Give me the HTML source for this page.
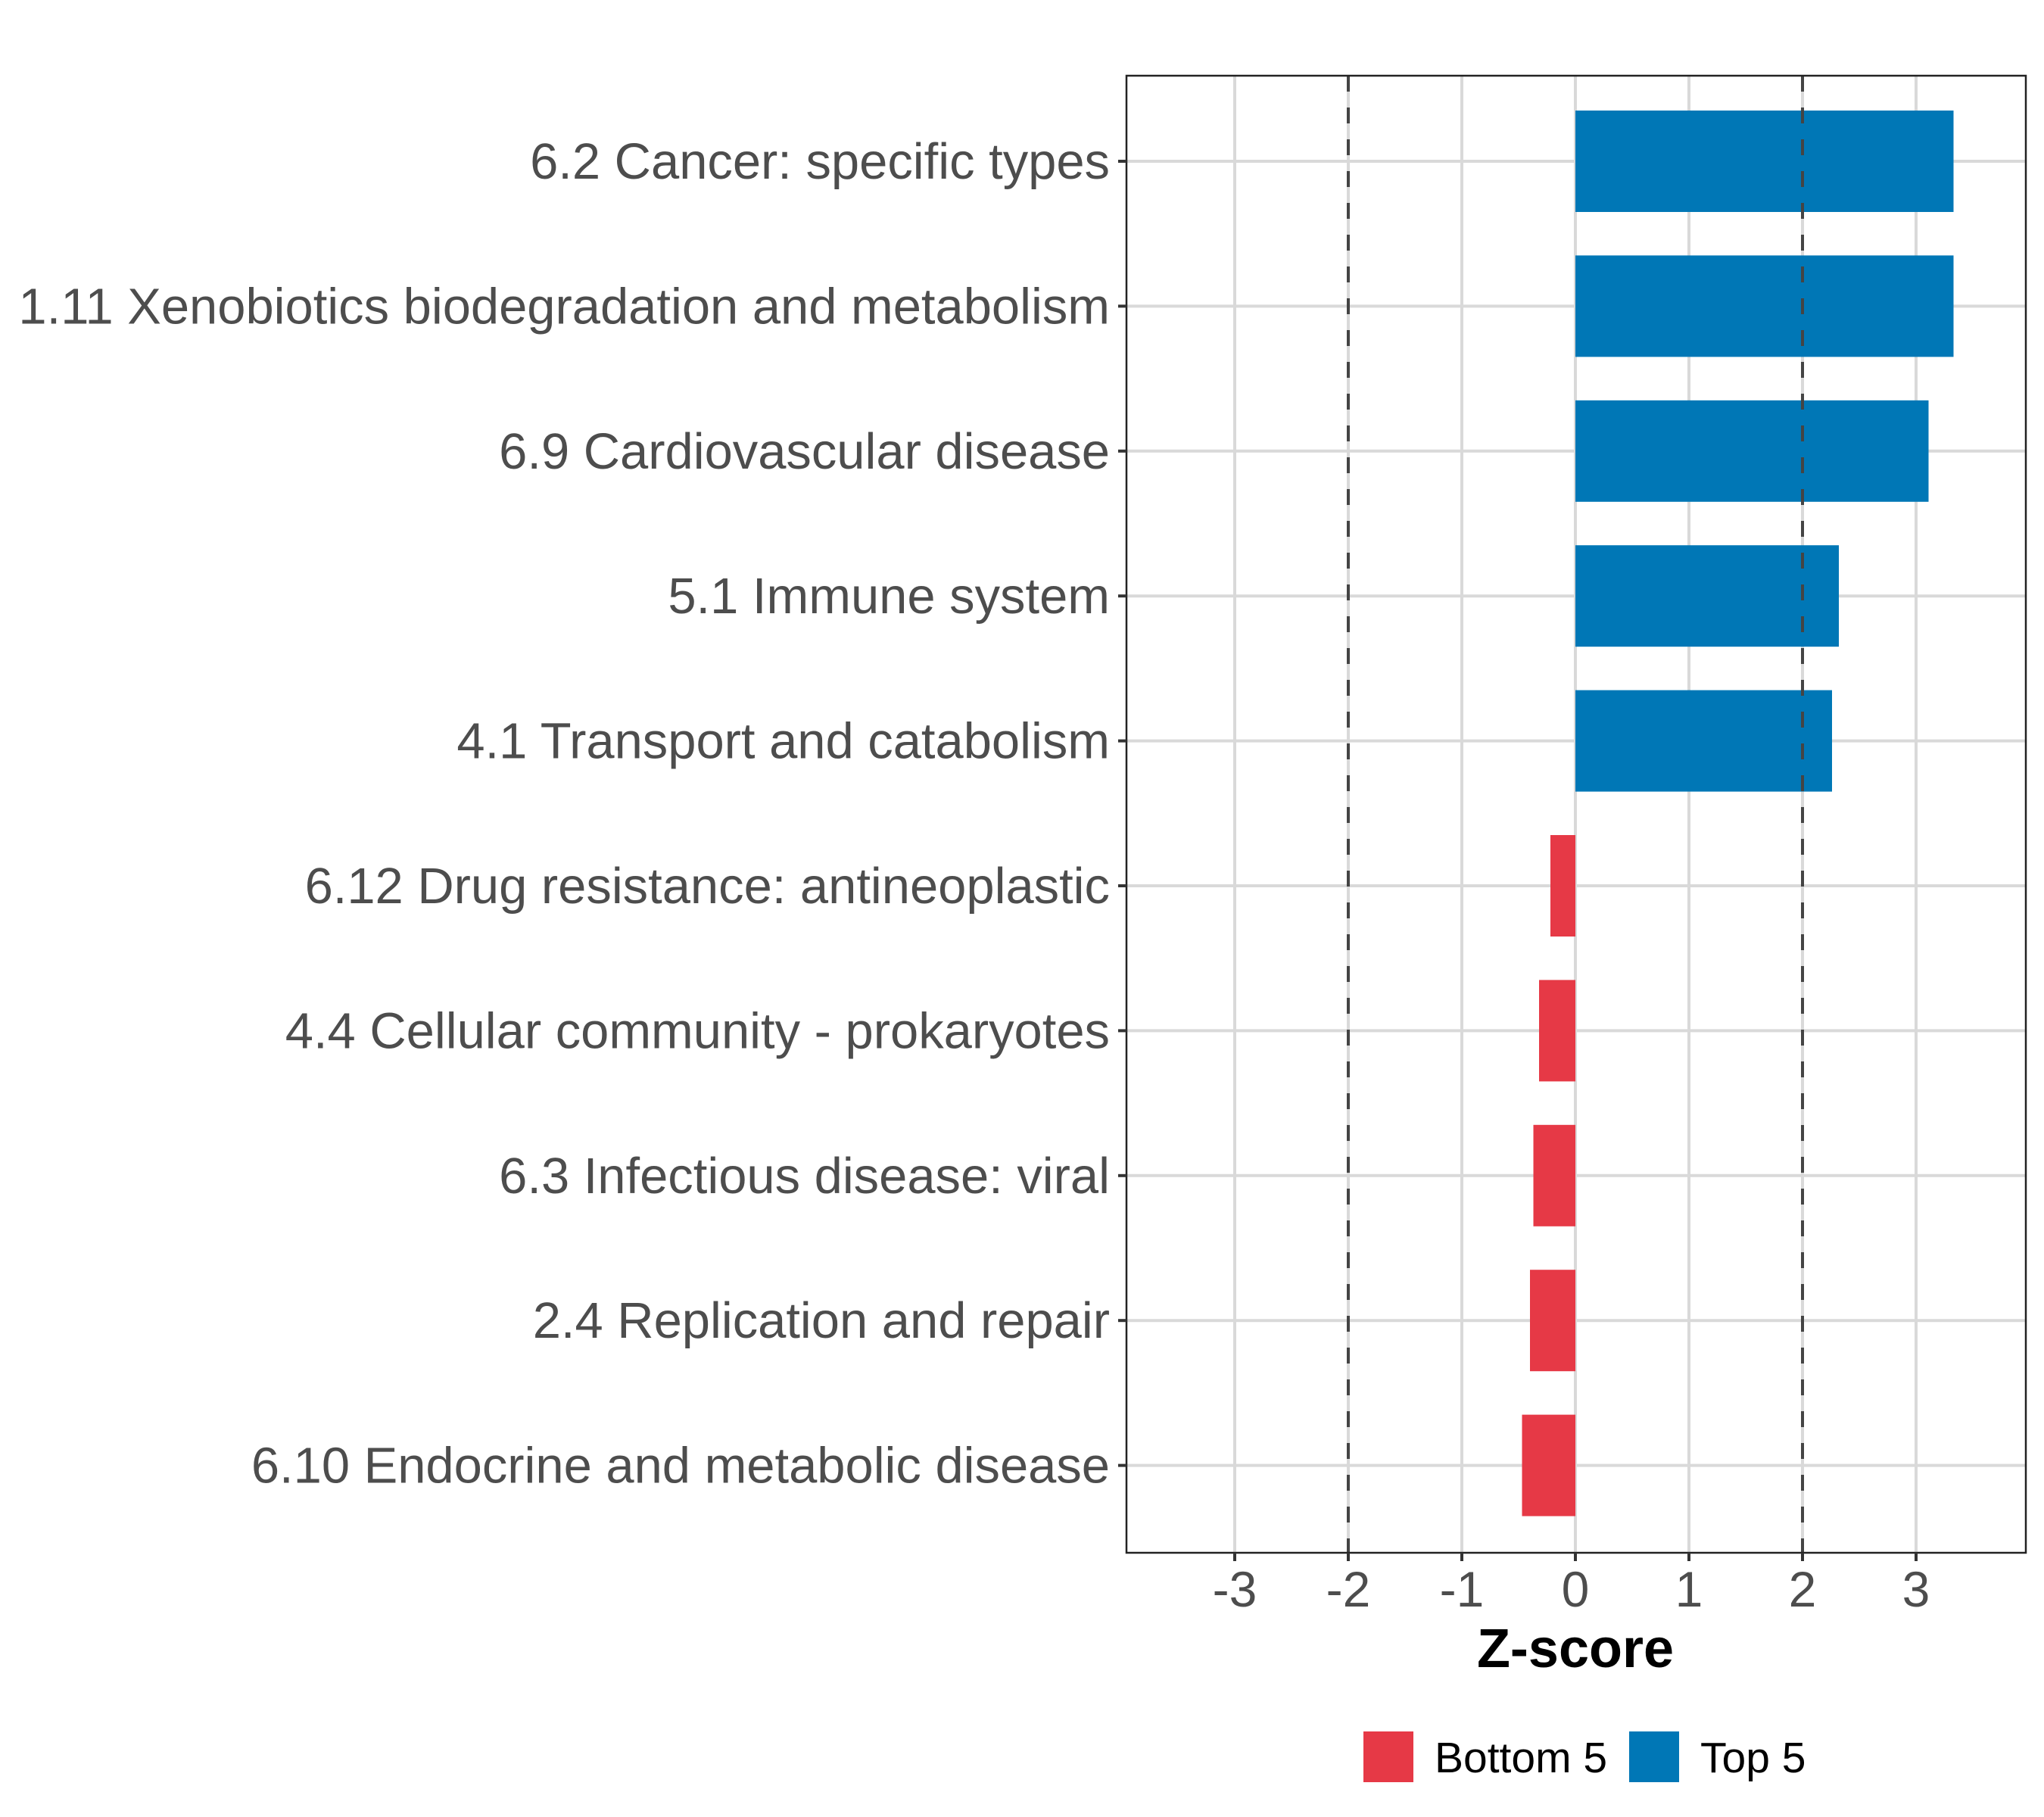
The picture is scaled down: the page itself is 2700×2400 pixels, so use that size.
<!DOCTYPE html>
<html><head><meta charset="utf-8"><style>
html,body{margin:0;padding:0;background:#fff}
svg{display:block;font-family:"Liberation Sans",Arial,sans-serif}
</style></head><body>
<svg id="chart" width="2700" height="2400" viewBox="0 0 2700 2400"></svg>
<script>
const categories=["6.2 Cancer: specific types","1.11 Xenobiotics biodegradation and metabolism","6.9 Cardiovascular disease","5.1 Immune system","4.1 Transport and catabolism","6.12 Drug resistance: antineoplastic","4.4 Cellular community - prokaryotes","6.3 Infectious disease: viral","2.4 Replication and repair","6.10 Endocrine and metabolic disease"];
const values=[3.33,3.33,3.11,2.32,2.26,-0.22,-0.32,-0.37,-0.40,-0.47];
const groups=["Top 5","Top 5","Top 5","Top 5","Top 5","Bottom 5","Bottom 5","Bottom 5","Bottom 5","Bottom 5"];
const xTicks=[-3,-2,-1,0,1,2,3];
const thresholds=[-2,2];
const legendLabels=["Bottom 5","Top 5"];

const NS="http://www.w3.org/2000/svg";
const svg=document.getElementById("chart");
const L=1488,R=2676,T=100,B=2051;
const colors={"Top 5":"#0077B6","Bottom 5":"#E63946"};
function xs(v){return 2081+v*150;}
function ys(i){return 213+i*191.4;}
const band=191.4*0.7;
function mk(tag,attrs,parent){const e=document.createElementNS(NS,tag);for(const k in attrs)e.setAttribute(k,attrs[k]);(parent||svg).appendChild(e);return e;}

xTicks.forEach(t=>{
  const g=mk("line",{x1:xs(t),x2:xs(t),y1:T,y2:B,stroke:"#d9d9d9","stroke-width":4});
  
  
});
categories.forEach((c,i)=>{
  const g=mk("line",{x1:L,x2:R,y1:ys(i),y2:ys(i),stroke:"#d9d9d9","stroke-width":4});
  
  
});
values.forEach((v,i)=>{
  const x0=Math.min(xs(0),xs(v)),w=Math.abs(xs(v)-xs(0));
  const b=mk("rect",{x:x0,y:ys(i)-band/2,width:w,height:band,fill:colors[groups[i]]});
  
  
});
thresholds.forEach(t=>{
  const l=mk("line",{x1:xs(t),x2:xs(t),y1:T,y2:B,stroke:"#444","stroke-width":4,"stroke-dasharray":"21 21"});
  
  
});
const pb=mk("rect",{x:L,y:T,width:R-L,height:B-T,fill:"none",stroke:"#222","stroke-width":2.5});


categories.forEach((c,i)=>{
  const tk=mk("line",{x1:L-11,x2:L,y1:ys(i),y2:ys(i),stroke:"#333","stroke-width":4});
  
  
  const t=mk("text",{x:L-22,y:ys(i)+23,"text-anchor":"end","font-size":66.9,fill:"#4d4d4d"});
  t.textContent=c;
  
  
});
xTicks.forEach(v=>{
  const tk=mk("line",{x1:xs(v),x2:xs(v),y1:B,y2:B+11,stroke:"#333","stroke-width":4});
  
  
  const t=mk("text",{x:xs(v),y:2122,"text-anchor":"middle","font-size":66,fill:"#4d4d4d"});
  t.textContent=String(v);
  
  
});
const xt=mk("text",{x:2081,y:2202,"text-anchor":"middle","font-size":72,"font-weight":"bold",fill:"#000"});
xt.textContent="Z-score";


const legX=[1801,2152];
legendLabels.forEach((lab,i)=>{
  const r=mk("rect",{x:legX[i],y:2287,width:66,height:67,fill:colors[lab]});
  
  
  const t=mk("text",{x:legX[i]+94,y:2341,"font-size":57,fill:"#000"});
  t.textContent=lab;
  
  
});
</script>
</body></html>
